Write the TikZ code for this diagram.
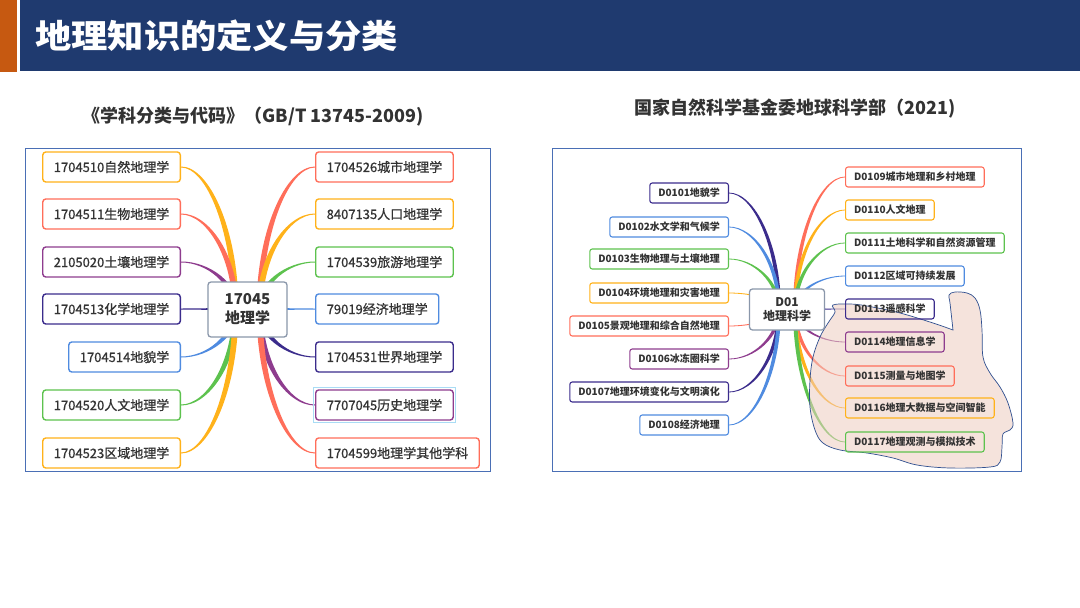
\documentclass[tikz,border=0pt]{standalone}
\usepackage{fontspec}
\setmainfont{Noto Sans CJK SC}
\newfontfamily\medfont{Noto Sans CJK SC}[FakeBold=0.8]
\usetikzlibrary{calc,backgrounds}
\definecolor{hdr}{HTML}{1F3A6F}
\definecolor{hdro}{HTML}{C65911}
\definecolor{txt}{HTML}{333333}
\definecolor{cOr}{HTML}{FFB21A}
\definecolor{cRd}{HTML}{FF6E5A}
\definecolor{cPu}{HTML}{8E3C8E}
\definecolor{cIn}{HTML}{3B2C8C}
\definecolor{cBl}{HTML}{4F8BE0}
\definecolor{cGr}{HTML}{5DC24E}
\definecolor{cgray}{HTML}{8A97AA}
\definecolor{frm}{HTML}{4A6FB5}
\definecolor{blobf}{HTML}{EECDC1}
\definecolor{blobd}{HTML}{2F4F8F}
\definecolor{hlc}{HTML}{A9DCF5}
\newcommand\brch[5]{%
  \path ($(#1)+#4$) coordinate (sa) ($(#1)-#4$) coordinate (sb)
        ($(#2)+#5$) coordinate (ea) ($(#2)-#5$) coordinate (eb);
  \fill[#3] (sa) .. controls ($(sa)!0.55!(sa|-ea)$) and ($(ea)!0.5!(ea-|sa)$) .. (ea)
    -- (eb) .. controls ($(eb)!0.5!(eb-|sb)$) and ($(sb)!0.55!(sb|-eb)$) .. (sb) -- cycle;}
\newcommand\LU[3]{\brch{#1}{#2}{#3}{(-\bw,0)}{(0,\ew)}}
\newcommand\LD[3]{\brch{#1}{#2}{#3}{(-\bw,0)}{(0,-\ew)}}
\newcommand\HB[3]{\brch{#1}{#2}{#3}{(0,\bw)}{(0,\ew)}}
\newcommand\RU[3]{\brch{#1}{#2}{#3}{(\bw,0)}{(0,\ew)}}
\newcommand\RD[3]{\brch{#1}{#2}{#3}{(\bw,0)}{(0,-\ew)}}
\tikzset{
  lc/.style={draw, fill=white, rounded corners=3pt, line width=1.4pt, minimum height=30pt,
    inner xsep=11pt, inner ysep=0pt, text=txt, font=\medfont\fontsize{13}{15}\selectfont},
  rc/.style={draw, rounded corners=2.5pt, line width=1.1pt, minimum height=20pt,
    inner xsep=8.5pt, inner ysep=0pt, text=txt, font=\bfseries\fontsize{10}{12}\selectfont},
  ctr/.style={draw=cgray, fill=white, rounded corners=3pt, line width=1.3pt, align=center,
    text=txt, inner sep=0pt},
  frame/.style={draw=frm, line width=1pt},
}
\begin{document}
\begin{tikzpicture}[x=1pt,y=-1pt]
\useasboundingbox (0,0) rectangle (1080,608);
% header
\fill[hdro] (0,0) rectangle (17,72);
\fill[hdr] (20,0) rectangle (1080,71);
\node[anchor=west, text=white, font=\bfseries\fontsize{33}{33}\selectfont, inner sep=0pt] (title) at (35,36) {\scalebox{1.1}[1]{地理知识的定义与分类}};
\node[text=txt, font=\bfseries\fontsize{18}{18}\selectfont] (sub1) at (253,117) {《学科分类与代码》（GB/T 13745-2009)};
\node[text=txt, font=\bfseries\fontsize{18}{18}\selectfont] (sub2) at (795,109) {国家自然科学基金委地球科学部（2021)};

% ===== left diagram =====
\node[ctr, minimum width=79pt, minimum height=55pt, font=\bfseries\fontsize{15}{19}\selectfont] (c1) at (247.5,309.5) {17045\\地理学};
\node[lc, draw=cOr, anchor=east] (a1) at (181,167) {1704510自然地理学};
\node[lc, draw=cRd, anchor=east] (a2) at (181,214) {1704511生物地理学};
\node[lc, draw=cPu, anchor=east] (a3) at (181,262) {2105020土壤地理学};
\node[lc, draw=cIn, anchor=east] (a4) at (181,309) {1704513化学地理学};
\node[lc, draw=cBl, anchor=east] (a5) at (181,357) {1704514地貌学};
\node[lc, draw=cGr, anchor=east] (a6) at (181,405) {1704520人文地理学};
\node[lc, draw=cOr, anchor=east] (a7) at (181,453) {1704523区域地理学};
\node[lc, draw=cRd, anchor=west] (b1) at (315,167) {1704526城市地理学};
\node[lc, draw=cOr, anchor=west] (b2) at (315,214) {8407135人口地理学};
\node[lc, draw=cGr, anchor=west] (b3) at (315,262) {1704539旅游地理学};
\node[lc, draw=cBl, anchor=west] (b4) at (315,309) {79019经济地理学};
\node[lc, draw=cIn, anchor=west] (b5) at (315,357) {1704531世界地理学};
\node[lc, draw=cPu, anchor=west] (b6) at (315,405) {7707045历史地理学};
\node[lc, draw=cRd, anchor=west] (b7) at (315,453) {1704599地理学其他学科};
\draw[hlc, line width=1pt] ($(b6.south west)+(-2,2)$) rectangle ($(b6.north east)+(2,-2)$);

% ===== right diagram =====
\node[ctr, minimum width=75pt, minimum height=41pt, font=\bfseries\fontsize{12}{13.5}\selectfont] (c2) at (787,309.5) {D01\\地理科学};
\node[rc, fill=white, draw=cIn, anchor=east] (d1) at (729,193) {D0101地貌学};
\node[rc, fill=white, draw=cBl, anchor=east] (d2) at (729,227) {D0102水文学和气候学};
\node[rc, fill=white, draw=cGr, anchor=east] (d3) at (729,259) {D0103生物地理与土壤地理};
\node[rc, fill=white, draw=cOr, anchor=east] (d4) at (729,293) {D0104环境地理和灾害地理};
\node[rc, fill=white, draw=cRd, anchor=east] (d5) at (729,326) {D0105景观地理和综合自然地理};
\node[rc, fill=white, draw=cPu, anchor=east] (d6) at (729,359) {D0106冰冻圈科学};
\node[rc, fill=white, draw=cIn, anchor=east] (d7) at (729,392) {D0107地理环境变化与文明演化};
\node[rc, fill=white, draw=cBl, anchor=east] (d8) at (729,425) {D0108经济地理};
\node[rc, draw=cRd, anchor=west] (e1) at (845,177) {D0109城市地理和乡村地理};
\node[rc, draw=cOr, anchor=west] (e2) at (845,210) {D0110人文地理};
\node[rc, draw=cGr, anchor=west] (e3) at (845,243) {D0111土地科学和自然资源管理};
\node[rc, draw=cBl, anchor=west] (e4) at (845,276) {D0112区域可持续发展};
\node[rc, draw=cIn, anchor=west] (e5) at (845,309) {D0113遥感科学};
\node[rc, draw=cPu, anchor=west] (e6) at (845,342) {D0114地理信息学};
\node[rc, draw=cRd, anchor=west] (e7) at (845,376) {D0115测量与地图学};
\node[rc, draw=cOr, anchor=west] (e8) at (845,408) {D0116地理大数据与空间智能};
\node[rc, draw=cGr, anchor=west] (e9) at (845,442) {D0117地理观测与模拟技术};

\begin{pgfonlayer}{background}
  \fill[white] (0,0) rectangle (1080,608);
  \draw[frame] (25,148) rectangle (490,471);
  \draw[frame] (552,148) rectangle (1021,471);
  \coordinate (sL1) at ($(c1.center)+(-12,0)$);
  \coordinate (sR1) at ($(c1.center)+(12,0)$);
  \def\bw{3}\def\ew{0.5}
  \LU{sL1}{a1.east}{cOr} \LU{sL1}{a2.east}{cRd} \LU{sL1}{a3.east}{cPu}
  \HB{sL1}{a4.east}{cIn}
  \LD{sL1}{a5.east}{cBl} \LD{sL1}{a6.east}{cGr} \LD{sL1}{a7.east}{cOr}
  \RU{sR1}{b1.west}{cRd} \RU{sR1}{b2.west}{cOr} \RU{sR1}{b3.west}{cGr}
  \HB{sR1}{b4.west}{cBl}
  \RD{sR1}{b5.west}{cIn} \RD{sR1}{b6.west}{cPu} \RD{sR1}{b7.west}{cRd}
  \coordinate (sL2) at ($(c2.center)+(-8,0)$);
  \coordinate (sR2) at ($(c2.center)+(8,0)$);
  \def\bw{2}\def\ew{0.4}
  \LU{sL2}{d1.east}{cIn} \LU{sL2}{d2.east}{cBl} \LU{sL2}{d3.east}{cGr} \LU{sL2}{d4.east}{cOr}
  \LD{sL2}{d5.east}{cRd} \LD{sL2}{d6.east}{cPu} \LD{sL2}{d7.east}{cIn} \LD{sL2}{d8.east}{cBl}
  \RU{sR2}{e1.west}{cRd} \RU{sR2}{e2.west}{cOr} \RU{sR2}{e3.west}{cGr} \RU{sR2}{e4.west}{cBl}
  \HB{sR2}{e5.west}{cIn}
  \RD{sR2}{e6.west}{cPu} \RD{sR2}{e7.west}{cRd} \RD{sR2}{e8.west}{cOr} \RD{sR2}{e9.west}{cGr}
  % blob
  \draw[blobd, line width=0.7pt, fill=blobf, fill opacity=0.55]
    plot[smooth, tension=0.6] coordinates {(953,330) (950,303) (949,295) (955,292) (967,293) (975,298) (980,310) (982,330) (983,357) (990,373) (1000,387) (1008,403) (1013,423) (1010,430) (1003,434) (1002,447) (1000,462) (990,467) (950,468) (917,465) (893,458) (867,453) (840,450) (823,443) (815,430) (810,407) (810,380) (813,357) (820,337) (828,323) (835,312) (833,305) (850,304) (867,306) (900,313) (933,323) (953,330)} -- cycle;
\end{pgfonlayer}
\end{tikzpicture}
\end{document}
